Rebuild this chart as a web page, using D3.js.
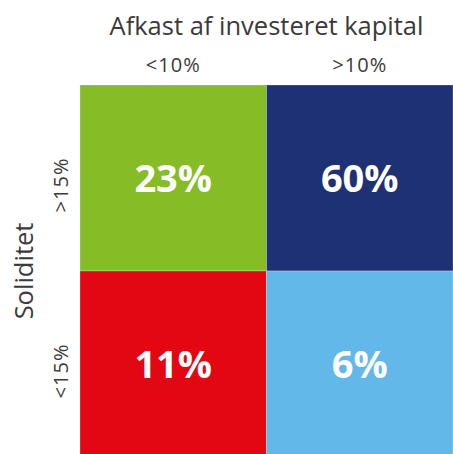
<!DOCTYPE html>
<html>
<head>
<meta charset="utf-8">
<script src="https://cdn.jsdelivr.net/npm/d3@7"></script>
<style>
  body { margin: 0; background: #fff; }
  svg { display: block; }
  text { font-family: "Open Sans", sans-serif; }
</style>
</head>
<body>
<svg id="matrix" width="453" height="454"></svg>
<script>
// Data: columns = afkast af investeret kapital, rows = soliditet
var cols = ["<10%", ">10%"];
var rows = [">15%", "<15%"];
var shares = [
  {row: ">15%", col: "<10%", value: 23},
  {row: ">15%", col: ">10%", value: 60},
  {row: "<15%", col: "<10%", value: 11},
  {row: "<15%", col: ">10%", value: 6}
];
var colors = ["#86bc25", "#1e3175", "#e30613", "#62b9e9"];

var svg = d3.select("#matrix"),
    margin = {top: 85, right: 0, bottom: -3, left: 80},
    width = +svg.attr("width") - margin.left - margin.right,
    height = +svg.attr("height") - margin.top - margin.bottom,
    g = svg.append("g").attr("transform", "translate(" + margin.left + "," + margin.top + ")");

var x = d3.scaleBand().domain(cols).range([0, width]);
var y = d3.scaleBand().domain(rows).range([0, height]);
var z = d3.scaleOrdinal().domain(shares.map(function(d) { return d.row + d.col; })).range(colors);

// cells
g.selectAll("rect")
  .data(shares)
  .enter().append("rect")
    .attr("x", function(d) { return x(d.col); })
    .attr("y", function(d) { return y(d.row); })
    .attr("width", x.bandwidth())
    .attr("height", y.bandwidth())
    .attr("fill", function(d) { return z(d.row + d.col); })
    .attr("stroke", "rgba(255,255,255,0.25)")
    .attr("stroke-width", 1);

// values
g.selectAll(".val")
  .data(shares)
  .enter().append("text")
    .attr("class", "val")
    .attr("x", function(d) { return x(d.col) + x.bandwidth() / 2; })
    .attr("y", function(d) { return y(d.row) + y.bandwidth() / 2; })
    .attr("dy", "0.36em")
    .attr("text-anchor", "middle")
    .attr("fill", "#fff")
    .attr("font-size", "38px")
    .attr("font-weight", "bold")
    .text(function(d) { return d.value + "%"; });

// top axis
var xAxis = g.append("g")
    .call(d3.axisTop(x).tickSize(0).tickPadding(13));
xAxis.select(".domain").remove();
xAxis.selectAll("text")
    .attr("font-size", "20px")
    .attr("letter-spacing", "1px")
    .attr("font-family", "'Open Sans', sans-serif")
    .attr("fill", "#3a3a3a");

// left axis, rotated labels
var yAxis = g.append("g")
    .call(d3.axisLeft(y).tickSize(0));
yAxis.select(".domain").remove();
yAxis.selectAll("text")
    .attr("transform", "rotate(-90)")
    .attr("text-anchor", "middle")
    .attr("x", -7)
    .attr("y", -12)
    .attr("dy", "0em")
    .attr("font-size", "20px")
    .attr("letter-spacing", "1px")
    .attr("font-family", "'Open Sans', sans-serif")
    .attr("fill", "#3a3a3a");

// axis titles
svg.append("text")
    .attr("x", margin.left + width / 2)
    .attr("y", 35)
    .attr("text-anchor", "middle")
    .attr("font-size", "25.5px")
    .attr("fill", "#3a3a3a")
    .text("Afkast af investeret kapital");

svg.append("text")
    .attr("transform", "translate(33," + (margin.top + height / 2) + ") rotate(-90)")
    .attr("text-anchor", "middle")
    .attr("font-size", "25.5px")
    .attr("fill", "#3a3a3a")
    .text("Soliditet");
</script>
</body>
</html>
